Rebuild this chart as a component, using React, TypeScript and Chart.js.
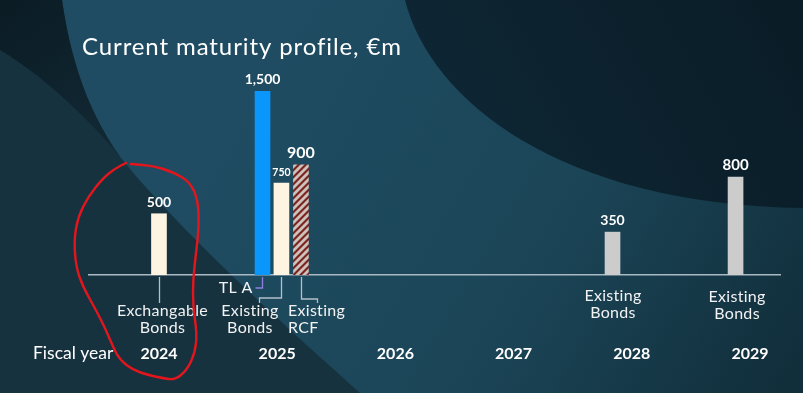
import { useEffect, useRef } from "react";
import { Chart, registerables } from "chart.js";

Chart.register(...registerables);

// ---------- data ----------
const fiscalYears = [2024, 2025, 2026, 2027, 2028, 2029];
const instrumentNames = [
  "Exchangable\nBonds",
  "TL A",
  "Existing\nBonds",
  "Existing\nRCF",
  "Existing\nBonds",
  "Existing\nBonds",
];
// maturity position on the fiscal-year axis (bars sit slightly off the year ticks, as in the source slide)
const maturityPositions = [2024.0, 2024.876, 2025.036, 2025.201, 2027.837, 2028.878];
const amountsEurM = [500, 1500, 750, 900, 350, 800];
const amountLabels = ["500", "1,500", "750", "900", "350", "800"];
const chartTitle = "Current maturity profile, €m";
const axisCaption = "Fiscal year";

// ---------- styles ----------
const FONT = "Lato, 'Open Sans', sans-serif";
const barFills = ["#fdf5e1", "#0a96fb", "#fdf5e1", "hatch", "#cccccc", "#cccccc"];
const amountFontSizes = [14, 14, 10.5, 16, 14, 15];
type LabelStyle = {
  align: CanvasTextAlign;
  dx: number;
  dy: number;
  path: number[][] | null;
  color: string;
};
const labelStyles: LabelStyle[] = [
  { align: "center", dx: 3.5, dy: 36, path: [[0, 2], [0, 28]], color: "#b3c0c8" },
  { align: "right", dx: -10, dy: 13, path: [[-1, 2], [-1, 13], [-8, 13]], color: "#8d7fe0" },
  { align: "center", dx: -31.5, dy: 36, path: [[0, 2], [0, 23], [-22, 23], [-22, 28]], color: "#b3c0c8" },
  { align: "left", dx: -13, dy: 36, path: [[0, 2], [0, 24], [16, 24], [16, 28]], color: "#b3c0c8" },
  { align: "center", dx: 0.5, dy: 21, path: null, color: "" },
  { align: "center", dx: 1.5, dy: 22, path: null, color: "" },
];
// hand-drawn highlight around the 2024 maturity (slide annotation)
const annotationStroke = [
  [131, 164], [150, 165], [173, 172], [190, 182], [198, 200], [199, 227], [196, 253],
  [193, 280], [193, 307], [197, 333], [195, 353], [187, 370], [175, 380], [162, 378],
  [148, 375], [133, 370], [120, 360], [113, 347], [106, 330], [96, 310], [83, 287],
  [76, 267], [74, 240], [78, 217], [88, 197], [103, 178], [116, 168], [126, 163],
];

function makeHatch(): CanvasPattern | string {
  const s = 7;
  const c = document.createElement("canvas");
  c.width = s;
  c.height = s;
  const g = c.getContext("2d");
  if (!g) return "#b08080";
  const img = g.createImageData(s, s);
  const dark = [122, 36, 28];
  const light = [206, 192, 188];
  for (let y = 0; y < s; y++) {
    for (let x = 0; x < s; x++) {
      const k = (x + y) % s;
      const t = k < 2 ? 1 : k === 2 || k === 6 ? 0.5 : 0;
      const i = (y * s + x) * 4;
      for (let ch = 0; ch < 3; ch++) img.data[i + ch] = Math.round(dark[ch] * t + light[ch] * (1 - t));
      img.data[i + 3] = 255;
    }
  }
  g.putImageData(img, 0, 0);
  return g.createPattern(c, "repeat") || "#b08080";
}

const backgroundPlugin = {
  id: "slideBackground",
  beforeDraw(chart: Chart) {
    const { ctx, width, height } = chart;
    ctx.save();
    const base = ctx.createLinearGradient(250, 80, 780, 393);
    base.addColorStop(0, "#1f4c62");
    base.addColorStop(0.55, "#1b4557");
    base.addColorStop(1, "#112e3b");
    ctx.fillStyle = base;
    ctx.fillRect(0, 0, width, height);

    // lower-left darker sweep
    ctx.beginPath();
    ctx.moveTo(0, 0);
    ctx.lineTo(62, 0);
    ctx.bezierCurveTo(72, 70, 95, 130, 135, 175);
    ctx.bezierCurveTo(200, 250, 290, 330, 360, 393);
    ctx.lineTo(0, 393);
    ctx.closePath();
    ctx.fillStyle = "#16323f";
    ctx.fill();

    // darkest crescent at top-left
    ctx.beginPath();
    ctx.moveTo(0, 0);
    ctx.lineTo(62, 0);
    ctx.bezierCurveTo(72, 70, 95, 130, 135, 175);
    ctx.bezierCurveTo(100, 130, 50, 80, 0, 50);
    ctx.closePath();
    const cg = ctx.createLinearGradient(20, 0, 130, 170);
    cg.addColorStop(0, "#0b1c25");
    cg.addColorStop(1, "#132b37");
    ctx.fillStyle = cg;
    ctx.fill();

    // top-right dark disc
    ctx.beginPath();
    ctx.moveTo(405, 0);
    ctx.bezierCurveTo(430, 100, 560, 205, 803, 208);
    ctx.lineTo(803, 0);
    ctx.closePath();
    const dg = ctx.createLinearGradient(450, 200, 800, 0);
    dg.addColorStop(0, "#0e2735");
    dg.addColorStop(1, "#0a1c26");
    ctx.fillStyle = dg;
    ctx.fill();
    ctx.restore();
  },
};

const labelsPlugin = {
  id: "slideLabels",
  afterDraw(chart: Chart) {
    const { ctx, chartArea } = chart;
    const meta = chart.getDatasetMeta(0);
    const axisY = chartArea.bottom;
    ctx.save();
    const c = ctx as any;

    // title
    ctx.fillStyle = "#ffffff";
    ctx.font = `24px ${FONT}`;
    c.letterSpacing = "0.9px";
    ctx.textAlign = "left";
    ctx.textBaseline = "alphabetic";
    ctx.fillText(chartTitle, 82, 55);
    c.letterSpacing = "0px";

    // axis caption
    ctx.font = `17.5px ${FONT}`;
    ctx.textBaseline = "middle";
    ctx.fillText(axisCaption, 33, 353);

    meta.data.forEach((el: any, i: number) => {
      const x = el.x;
      const top = el.y;
      // value label
      ctx.fillStyle = "#ffffff";
      ctx.font = `bold ${amountFontSizes[i]}px ${FONT}`;
      ctx.textAlign = "center";
      ctx.textBaseline = "alphabetic";
      ctx.fillText(amountLabels[i], x, top - 7);

      // connector
      const st = labelStyles[i];
      if (st.path) {
        ctx.beginPath();
        st.path.forEach(([px, py], k) => {
          const X = Math.round(x + px) + 0.5;
          const Y = axisY + py;
          if (k === 0) ctx.moveTo(X, Y);
          else ctx.lineTo(X, Y);
        });
        ctx.strokeStyle = st.color;
        ctx.lineWidth = 1.3;
        ctx.stroke();
      }
      // instrument label
      ctx.fillStyle = "#f2f2f2";
      ctx.font = `16px ${FONT}`;
      c.letterSpacing = "0.3px";
      ctx.textAlign = st.align;
      ctx.textBaseline = "middle";
      instrumentNames[i].split("\n").forEach((line, k) => {
        ctx.fillText(line, x + st.dx, axisY + st.dy + k * 17);
      });
      c.letterSpacing = "0px";
    });

    // annotation
    ctx.beginPath();
    const p = annotationStroke;
    ctx.moveTo(p[0][0], p[0][1]);
    for (let k = 1; k < p.length - 1; k++) {
      const mx = (p[k][0] + p[k + 1][0]) / 2;
      const my = (p[k][1] + p[k + 1][1]) / 2;
      ctx.quadraticCurveTo(p[k][0], p[k][1], mx, my);
    }
    ctx.lineTo(p[p.length - 1][0], p[p.length - 1][1]);
    ctx.strokeStyle = "#e3161d";
    ctx.lineWidth = 2.4;
    ctx.lineJoin = "round";
    ctx.lineCap = "round";
    ctx.stroke();
    ctx.restore();
  },
};

export default function App() {
  const canvasRef = useRef<HTMLCanvasElement | null>(null);

  useEffect(() => {
    const canvas = canvasRef.current;
    if (!canvas) return;
    const hatch = makeHatch();
    const chart = new Chart(canvas, {
      type: "bar",
      data: {
        datasets: [
          {
            data: maturityPositions.map((x, i) => ({ x, y: amountsEurM[i] })),
            backgroundColor: barFills.map((f) => (f === "hatch" ? hatch : f)) as any,
            borderWidth: 0,
            barThickness: 15,
          },
        ],
      },
      options: {
        animation: false,
        responsive: false,
        devicePixelRatio: 1,
        layout: { padding: { left: 89, right: 23, top: 30, bottom: 0 } },
        plugins: {
          legend: { display: false },
          tooltip: { enabled: false },
          title: { display: false },
        },
        scales: {
          x: {
            type: "linear",
            min: 2023.408,
            max: 2029.254,
            offset: false,
            grid: { display: false, drawTicks: false },
            border: { display: true, color: "#a9b9c4", width: 1.5 },
            ticks: {
              color: "#ffffff",
              font: { family: FONT, size: 16, weight: "bold" },
              padding: 69,
              autoSkip: false,
              maxRotation: 0,
              callback: (v: any) => String(v),
            },
            afterBuildTicks: (axis: any) => {
              axis.ticks = fiscalYears.map((v) => ({ value: v }));
            },
            afterFit: (axis: any) => {
              axis.height = 118;
              axis.paddingLeft = 0;
              axis.paddingRight = 0;
            },
          },
          y: { display: false, min: 0, max: 2000 },
        },
      } as any,
      plugins: [backgroundPlugin, labelsPlugin],
    });
    return () => chart.destroy();
  }, []);

  return (
    <div style={{ position: "fixed", left: 0, top: 0, width: 803, height: 393 }}>
      <canvas ref={canvasRef} width={803} height={393} style={{ display: "block" }} />
    </div>
  );
}
